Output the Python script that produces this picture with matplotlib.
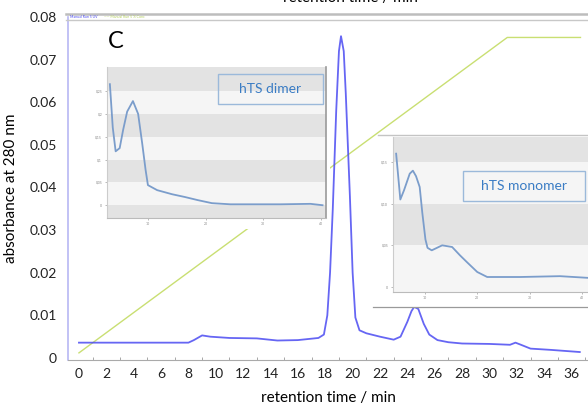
import matplotlib
matplotlib.use("Agg")
import matplotlib.pyplot as plt
from matplotlib.patches import Rectangle

plt.rcParams['font.family'] = ['Lato', 'DejaVu Sans']

# ---------------- data ----------------
# main chromatogram (retention time / min, absorbance at 280 nm)
uv_time = [0, 8.0, 8.4, 9.0, 9.6, 11, 13, 14.5, 16, 17.5, 17.9, 18.15, 18.35, 18.55,
           18.8, 19.0, 19.15, 19.35, 19.5, 19.65, 19.8, 20.0, 20.2, 20.5, 21, 22, 23,
           23.5, 24.0, 24.3, 24.5, 24.8, 25.2, 25.6, 26.2, 27, 28, 30, 31.5, 31.9,
           32.3, 33, 34.5, 36.6]
uv_abs = [0.0036, 0.0036, 0.0042, 0.0053, 0.0050, 0.0047, 0.0046, 0.0041, 0.0042,
          0.0047, 0.0055, 0.0100, 0.0200, 0.0350, 0.0580, 0.0720, 0.0755, 0.0720,
          0.0620, 0.0500, 0.0380, 0.0200, 0.0095, 0.0065, 0.0058, 0.0050, 0.0043,
          0.0050, 0.0085, 0.0110, 0.0120, 0.0115, 0.0080, 0.0055, 0.0042, 0.0037,
          0.0034, 0.0033, 0.0031, 0.0036, 0.0031, 0.0022, 0.0019, 0.0014]

# gradient (% conc, plotted on absorbance scale)
grad_time = [0, 31.3, 36.65]
grad_val = [0.0012, 0.0752, 0.0752]

# inset: hTS dimer
dimer_t = [3.4, 3.9, 4.4, 5.1, 5.7, 6.4, 7.4, 8.3, 9.0, 9.6, 10.0, 11.6, 14.2, 16.4,
           18.7, 21.1, 24.3, 33.0, 38.2, 40.3]
dimer_a = [0.265, 0.170, 0.118, 0.125, 0.165, 0.205, 0.228, 0.200, 0.136, 0.077,
           0.044, 0.033, 0.024, 0.018, 0.011, 0.0045, 0.002, 0.002, 0.003, 0.0]
dimer_yticks = [0, 0.05, 0.1, 0.15, 0.2, 0.25]
dimer_yticklabels = ['0', '0,05', '0,1', '0,15', '0,2', '0,25']

# inset: hTS monomer
mono_t = [4.5, 5.3, 6.0, 7.1, 7.7, 8.3, 9.0, 9.5, 10.1, 10.5, 11.3, 13.3, 15.2,
          16.7, 18.0, 20.0, 21.9, 28.2, 35.8, 41.1]
mono_a = [0.160, 0.105, 0.116, 0.136, 0.1396, 0.133, 0.120, 0.089, 0.057, 0.047,
          0.044, 0.050, 0.048, 0.038, 0.030, 0.018, 0.012, 0.012, 0.013, 0.011]
mono_yticks = [0, 0.05, 0.10, 0.15]
mono_yticklabels = ['0', '0,05', '0,10', '0,15']

x_ticks = list(range(0, 37, 2))
y_ticks = [0, 0.01, 0.02, 0.03, 0.04, 0.05, 0.06, 0.07, 0.08]
y_ticklabels = ['0', '0.01', '0.02', '0.03', '0.04', '0.05', '0.06', '0.07', '0.08']

# ---------------- figure ----------------
W, H = 588, 411
fig = plt.figure(figsize=(W / 100, H / 100), dpi=100)
fig.patch.set_facecolor('white')


def rect(x0, y0, x1, y1):
    return [x0 / W, 1 - y1 / H, (x1 - x0) / W, (y1 - y0) / H]


ax = fig.add_axes(rect(68, 17, 588, 360))
ax.set_xlim(-0.8, 37.2)
ax.set_ylim(-0.00047, 0.0800)
ax.plot(grad_time, grad_val, color='#c9df72', lw=1.0, zorder=2)
ax.plot(uv_time, uv_abs, color='#4b4bf2', lw=1.3, alpha=0.85, zorder=3)

ax.set_xticks(x_ticks)
ax.set_xticks(range(0, 38), minor=True)
ax.set_yticks(y_ticks)
ax.set_yticklabels(y_ticklabels)
ax.tick_params(axis='both', labelsize=10, length=0, pad=6, colors='#222222')
ax.tick_params(axis='x', which='minor', direction='in', length=2, color='#999999')
ax.tick_params(axis='y', pad=8)
for s in ['top', 'right']:
    ax.spines[s].set_visible(False)
ax.spines['left'].set_color('#b8b8f4')
ax.spines['left'].set_linewidth(1.2)
ax.spines['bottom'].set_color('#aaaaaa')
ax.spines['bottom'].set_linewidth(0.8)
ax.set_xlabel('retention time / min', fontsize=11, labelpad=8)
ax.set_ylabel('absorbance at 280 nm', fontsize=11, labelpad=8)

# top legend strip of original software
fig.add_artist(plt.Line2D([66 / W, 1], [1 - 14 / H, 1 - 14 / H], color='#bdbdbd', lw=1.8))
fig.add_artist(plt.Line2D([66 / W, 1], [1 - 20.5 / H, 1 - 20.5 / H], color='#c8c8c8', lw=1.0))
fig.text(70 / W, 1 - 17.5 / H, 'Manual Run 5 UV', fontsize=2.5, color='#4b4bf2', va='center')
fig.text(104 / W, 1 - 17.5 / H, '—— Manual Run 5 % Conc', fontsize=2.5, color='#b5d060', va='center')
fig.text(350 / W, 1 - (-2) / H, 'retention time / min', fontsize=11, ha='center', va='center')

fig.text(108 / W, 1 - 42 / H, 'C', fontsize=17, ha='left', va='center')


def inset(frame, plot, xlim, ylim, t, a, yt, ytl, bands, label, label_box, xtick_px_y):
    fr = fig.add_axes(rect(*frame))
    fr.set_xticks([]); fr.set_yticks([])
    fr.set_facecolor('white')
    for s in fr.spines.values():
        s.set_visible(False)
    fr.set_zorder(5)
    ia = fig.add_axes(rect(*plot))
    ia.set_zorder(6)
    ia.set_xlim(*xlim)
    ia.set_ylim(*ylim)
    ia.set_facecolor('#f5f5f5')
    for lo, hi in bands:
        ia.axhspan(lo, hi, color='#e3e3e3', lw=0, zorder=0)
    ia.plot(t, a, color='#7b9dcb', lw=1.3, zorder=2)
    ia.set_yticks(yt)
    ia.set_yticklabels(ytl)
    ia.set_xticks([10, 20, 30, 40])
    ia.set_xticklabels(['10', '20', '30', '40'])
    ia.tick_params(axis='both', labelsize=2.5, length=1.5, width=0.4,
                   colors='#888888', pad=2)
    ia.tick_params(axis='x', pad=1.5)
    for s in ['top']:
        ia.spines[s].set_visible(False)
    ia.spines['left'].set_color('#cccccc')
    ia.spines['right'].set_color('#9a9a9a')
    ia.spines['right'].set_linewidth(1.2)
    ia.spines['bottom'].set_color('#bbbbbb')
    bx0, by0, bx1, by1 = label_box
    fig.patches.append(Rectangle((bx0 / W, 1 - by1 / H), (bx1 - bx0) / W, (by1 - by0) / H,
                                 transform=fig.transFigure, facecolor='none',
                                 edgecolor='#9bb9da', lw=1.0, zorder=10))
    fig.text((bx0 + bx1) / 2 / W, 1 - (by0 + by1) / 2 / H, label, fontsize=10,
             color='#3a7cc4', ha='center', va='center', zorder=11)
    return fr, ia


fr1, ia1 = inset((103, 67, 330, 229), (107, 67, 326, 218), (2.9, 40.9), (-0.028, 0.3026),
                 dimer_t, dimer_a, dimer_yticks, dimer_yticklabels,
                 [(0.25, 0.31), (0.15, 0.2), (0.05, 0.1), (-0.05, 0)],
                 'hTS dimer', (218, 74, 323, 104), 222)

fr2, ia2 = inset((378, 135, 600, 307), (393, 137, 640, 292), (3.9, 51.1), (-0.006, 0.18),
                 mono_t, mono_a, mono_yticks, mono_yticklabels,
                 [(0.15, 0.2), (0.05, 0.1)],
                 'hTS monomer', (463, 171, 585, 201), 300)
ia2.spines['right'].set_visible(False)
fig.add_artist(plt.Line2D([378 / W, 1], [1 - 135 / H, 1 - 135 / H], color='#c4c4c4', lw=1.0, zorder=12))
fig.add_artist(plt.Line2D([373 / W, 1], [1 - 307 / H, 1 - 307 / H], color='#9a9a9a', lw=0.9, zorder=12))

fig.savefig('out.png', dpi=100)
